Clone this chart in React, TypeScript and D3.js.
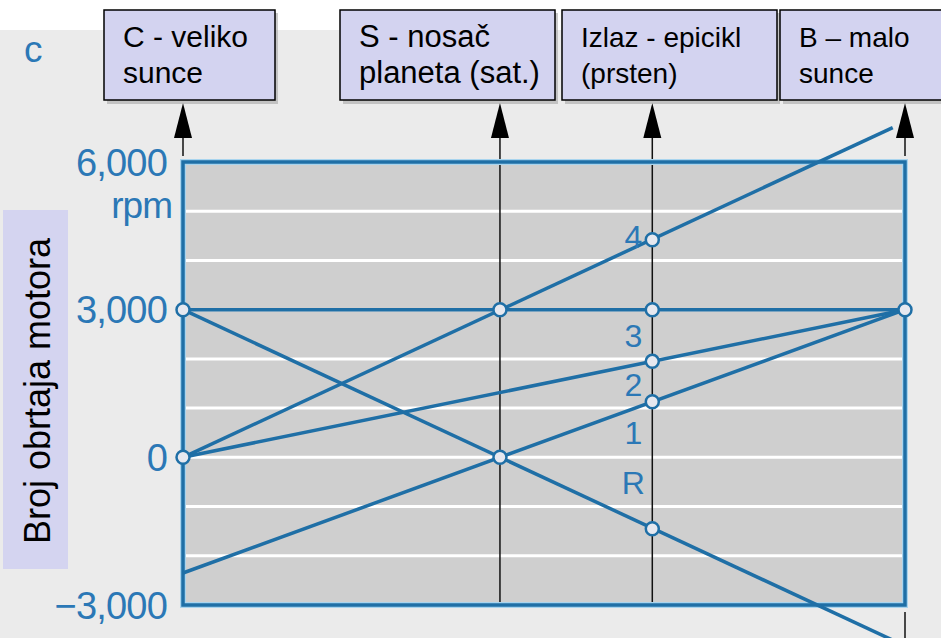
import React, { useEffect, useRef } from 'react';
import * as d3 from 'd3';

// shafts of the planetary set (relative lever position)
const shaftNames = ["C", "S", "Izlaz", "B"];
const shaftPos = [0, 0.439, 0.65, 1];
const boxLine1 = ["C - veliko", "S - nosač", "Izlaz - epicikl", "B – malo"];
const boxLine2 = ["sunce", "planeta (sat.)", "(prsten)", "sunce"];

// gear lines: rpm at C and at the far end
const gearNames = ["4", "3", "2", "1", "R"];
const gearFrom = [0, 3000, 0, -2350, 3000];
const gearToPos = [0.983, 1, 1, 1, 1];
const gearTo = [6700, 3000, 3000, 3000, -3830];
const gearLabelRpm = [4480, 2470, 1490, 500, -510];

// circle nodes
const nodeShaft = [0, 0, 1, 1, 2, 2, 2, 2, 2, 3];
const nodeRpm = [3000, 0, 3000, 0, 4420, 3000, 1950, 1130, -1450, 3000];

const yTicks = [6000, 3000, 0, -3000];
const yTickLabels = ["6,000", "3,000", "0", "−3,000"];
const gridValues = [-2000, -1000, 0, 1000, 2000, 3000, 4000, 5000];

const W = 941;
const H = 638;
const BLUE = "#1f6fa6";
const TEXT_BLUE = "#2b78b6";
const FONT = "'Liberation Sans', Arial, sans-serif";

const App = () => {
  const svgRef = useRef(null);

  useEffect(() => {
    const svg = d3.select(svgRef.current);
    svg.selectAll("*").remove();

    const x = d3.scaleLinear().domain([0, 1]).range([183, 905]);
    const y = d3.scaleLinear().domain([-3000, 6000]).range([605, 162]);

    // background
    svg.append("rect").attr("width", W).attr("height", H).attr("fill", "#ffffff");
    svg.append("rect").attr("y", 30).attr("width", W).attr("height", H - 30).attr("fill", "#ebebeb");

    // "c" panel letter
    svg.append("text")
      .attr("x", 24).attr("y", 62)
      .style("font-family", FONT).style("font-size", "37px")
      .style("fill", TEXT_BLUE)
      .text("c");

    // y title box
    svg.append("rect")
      .attr("x", 3).attr("y", 210).attr("width", 65).attr("height", 359)
      .attr("fill", "#d4d4f0");
    svg.append("text")
      .attr("transform", "translate(50,391) rotate(-90)")
      .attr("text-anchor", "middle")
      .style("font-family", FONT).style("font-size", "36px")
      .style("fill", "#000")
      .text("Broj obrtaja motora");

    // plot area
    const [x0, x1] = x.range();
    const [yb, yt] = y.range();
    svg.append("rect")
      .attr("x", x0).attr("y", yt).attr("width", x1 - x0).attr("height", yb - yt)
      .attr("fill", "#cfcfcf");

    svg.append("g").selectAll("line")
      .data(gridValues)
      .enter().append("line")
      .attr("x1", x0 + 2).attr("x2", x1 - 2)
      .attr("y1", d => y(d)).attr("y2", d => y(d))
      .style("stroke", "#ffffff").style("stroke-width", 3);

    // shaft lines + arrows
    const arrowTip = 103;
    const arrowBase = 138;
    shaftPos.forEach((p, i) => {
      const sx = x(p);
      const inner = i === 1 || i === 2;
      svg.append("line")
        .attr("x1", sx).attr("x2", sx)
        .attr("y1", arrowBase).attr("y2", inner ? yb : yt - 6)
        .style("stroke", "#111").style("stroke-width", 1.5);
      if (i === 3) {
        svg.append("line")
          .attr("x1", sx).attr("x2", sx)
          .attr("y1", yb + 7).attr("y2", H)
          .style("stroke", "#111").style("stroke-width", 1.5);
      }
      svg.append("path")
        .attr("d", `M${sx},${arrowTip}L${sx - 9},${arrowBase}L${sx + 9},${arrowBase}Z`)
        .attr("fill", "#000");
    });

    // border with light glow
    svg.append("rect")
      .attr("x", x0).attr("y", yt).attr("width", x1 - x0).attr("height", yb - yt)
      .attr("fill", "none").style("stroke", "#a8d4ee").style("stroke-width", 6);
    svg.append("rect")
      .attr("x", x0).attr("y", yt).attr("width", x1 - x0).attr("height", yb - yt)
      .attr("fill", "none").style("stroke", BLUE).style("stroke-width", 3.5);

    // gear lines
    svg.append("g").selectAll("line")
      .data(gearNames.map((g, i) => ({ g, i })))
      .enter().append("line")
      .attr("x1", x(0)).attr("y1", d => y(gearFrom[d.i]))
      .attr("x2", d => x(gearToPos[d.i])).attr("y2", d => y(gearTo[d.i]))
      .style("stroke", BLUE).style("stroke-width", 3.5);

    // nodes
    svg.append("g").selectAll("circle")
      .data(nodeRpm.map((v, i) => ({ v, s: nodeShaft[i] })))
      .enter().append("circle")
      .attr("cx", d => x(shaftPos[d.s])).attr("cy", d => y(d.v))
      .attr("r", 6.5)
      .style("fill", "#e6e8ef").style("stroke", BLUE).style("stroke-width", 2.5);

    // gear labels
    svg.append("g").selectAll("text")
      .data(gearNames.map((g, i) => ({ g, i })))
      .enter().append("text")
      .attr("x", x(shaftPos[2]) - 19).attr("y", d => y(gearLabelRpm[d.i]))
      .attr("dy", "0.36em")
      .attr("text-anchor", "middle")
      .style("font-family", FONT).style("font-size", "32px")
      .style("fill", TEXT_BLUE)
      .text(d => d.g);

    // y tick labels
    svg.append("g").selectAll("text")
      .data(yTicks.map((v, i) => ({ v, label: yTickLabels[i] })))
      .enter().append("text")
      .attr("x", 167).attr("y", d => y(d.v))
      .attr("dy", "0.36em")
      .attr("text-anchor", "end")
      .style("font-family", FONT).style("font-size", "38px")
      .style("letter-spacing", "-0.8px")
      .style("fill", TEXT_BLUE)
      .text(d => d.label);
    svg.append("text")
      .attr("x", 172).attr("y", 218)
      .attr("text-anchor", "end")
      .style("font-family", FONT).style("font-size", "37px")
      .style("letter-spacing", "-1px")
      .style("fill", TEXT_BLUE)
      .text("rpm");

    // shaft name boxes
    const boxLeft = [104, 340, 562, 780];
    const boxRight = [275, 555, 777, 945];
    const boxFont = [30, 31, 28, 28];
    const boxes = svg.append("g").selectAll("g")
      .data(shaftNames.map((n, i) => ({ n, i })))
      .enter().append("g");
    boxes.append("rect")
      .attr("x", d => boxLeft[d.i] + 3).attr("y", 13)
      .attr("width", d => boxRight[d.i] - boxLeft[d.i]).attr("height", 91)
      .attr("fill", "#9a9a9a").attr("opacity", 0.5);
    boxes.append("rect")
      .attr("x", d => boxLeft[d.i]).attr("y", 10)
      .attr("width", d => boxRight[d.i] - boxLeft[d.i]).attr("height", 90)
      .attr("fill", "#d3d3f0").style("stroke", "#000").style("stroke-width", 1.5);
    boxes.append("text")
      .attr("x", d => boxLeft[d.i] + 19).attr("y", 47)
      .style("font-family", FONT).style("font-size", d => `${boxFont[d.i]}px`)
      .style("fill", "#000")
      .text(d => boxLine1[d.i]);
    boxes.append("text")
      .attr("x", d => boxLeft[d.i] + 19).attr("y", 83)
      .style("font-family", FONT).style("font-size", d => `${boxFont[d.i]}px`)
      .style("fill", "#000")
      .text(d => boxLine2[d.i]);
  }, []);

  return (
    <svg ref={svgRef} width={W} height={H}
      style={{ position: 'absolute', left: 0, top: 0, display: 'block' }}></svg>
  );
};

export default App;
